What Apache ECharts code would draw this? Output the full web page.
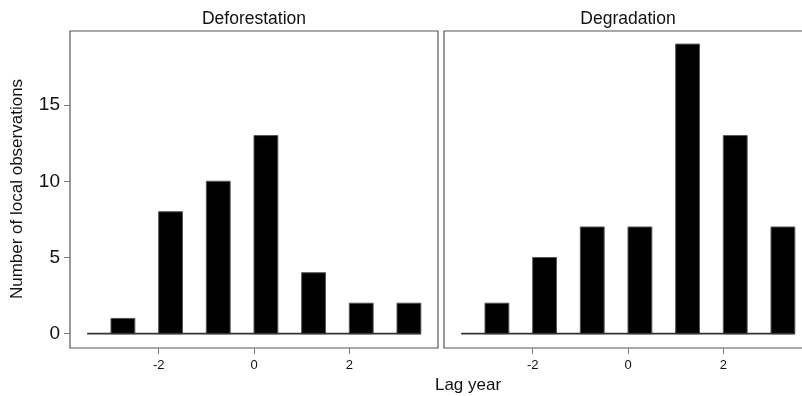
<!DOCTYPE html>
<html><head><meta charset="utf-8">
<script src="https://cdn.jsdelivr.net/npm/echarts@6/dist/echarts.min.js"></script>
<style>html,body{margin:0;padding:0;background:#fff}#c{width:802px;height:396px}</style>
</head><body><div id="c"></div>
<script>
const lags = [-3, -2, -1, 0, 1, 2, 3];
const deforestation = [1, 8, 10, 13, 4, 2, 2];
const degradation = [2, 5, 7, 7, 19, 13, 7];
const panelTitles = ['Deforestation', 'Degradation'];
const xTicks = [-2, 0, 2];
const yTicks = [0, 5, 10, 15];
const barSpan = 0.5;

const FONT = '"Liberation Sans", Arial, sans-serif';
const chart = echarts.init(document.getElementById('c'));

function barSeries(values, idx) {
  return {
    type: 'custom', xAxisIndex: idx, yAxisIndex: idx,
    data: lags.map((l, i) => [l, values[i]]),
    renderItem: function (params, api) {
      const x0 = api.value(0), v = api.value(1);
      const p0 = api.coord([x0, 0]);
      const p1 = api.coord([x0 + barSpan, v]);
      return {
        type: 'rect',
        shape: { x: p0[0], y: p1[1], width: p1[0] - p0[0], height: p0[1] - p1[1] },
        style: { fill: '#000', stroke: '#555', lineWidth: 1 }
      };
    },
    z: 3
  };
}
function baseline(idx) {
  return {
    type: 'line', xAxisIndex: idx, yAxisIndex: idx,
    data: [[lags[0] - barSpan, 0], [lags[lags.length - 1] + barSpan, 0]],
    symbol: 'none', lineStyle: { color: '#333', width: 1.6 }, z: 4, silent: true
  };
}
const xAx = (idx) => ({
  type: 'value', gridIndex: idx, min: -3.86, max: 3.86, position: 'bottom',
  axisLine: { show: false, onZero: false },
  splitLine: { show: false },
  axisTick: { show: true, customValues: xTicks, length: 6, lineStyle: { color: '#777' } },
  axisLabel: { show: true, customValues: xTicks, fontSize: 13, color: '#111', fontFamily: FONT, margin: 11 }
});
const yAx = (idx) => ({
  type: 'value', gridIndex: idx, min: -0.94, max: 19.86, position: 'left',
  axisLine: { show: false, onZero: false },
  splitLine: { show: false },
  axisTick: { show: idx === 0, customValues: yTicks, length: 6, lineStyle: { color: '#777' } },
  axisLabel: { show: idx === 0, customValues: yTicks, fontSize: 19, color: '#111', fontFamily: FONT, margin: 10 }
});

chart.setOption({
  animation: false,
  grid: [
    { left: 70, top: 31, width: 368, height: 317, show: true, borderColor: '#555', borderWidth: 1.2, backgroundColor: 'transparent', outerBoundsMode: 'none', containLabel: false },
    { left: 444, top: 31, width: 368, height: 317, show: true, borderColor: '#555', borderWidth: 1.2, backgroundColor: 'transparent', outerBoundsMode: 'none', containLabel: false }
  ],
  xAxis: [xAx(0), xAx(1)],
  yAxis: [yAx(0), yAx(1)],
  series: [barSeries(deforestation, 0), baseline(0), barSeries(degradation, 1), baseline(1)],
  graphic: [
    { type: 'text', x: 254, y: 19, style: { text: panelTitles[0], textAlign: 'center', textVerticalAlign: 'middle', font: '17.5px ' + FONT, fill: '#111' } },
    { type: 'text', x: 628, y: 19, style: { text: panelTitles[1], textAlign: 'center', textVerticalAlign: 'middle', font: '17.5px ' + FONT, fill: '#111' } },
    { type: 'text', x: 468, y: 385, style: { text: 'Lag year', textAlign: 'center', textVerticalAlign: 'middle', font: '17px ' + FONT, fill: '#111' } },
    { type: 'text', x: 17, y: 189, rotation: Math.PI / 2, style: { text: 'Number of local observations', textAlign: 'center', textVerticalAlign: 'middle', font: '17px ' + FONT, fill: '#111' } }
  ]
});
</script></body></html>
